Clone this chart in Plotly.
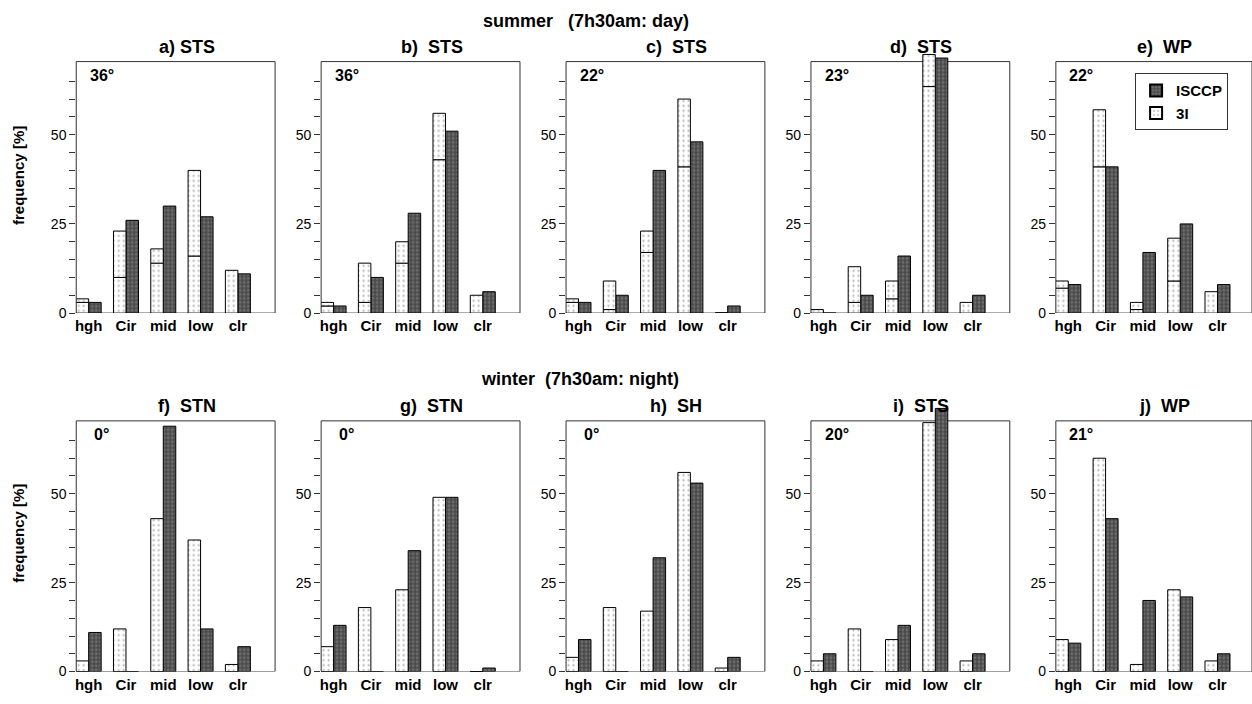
import plotly.graph_objects as go

# Cloud-type categories on the x axis
categories = ["hgh", "Cir", "mid", "low", "clr"]

# Panel titles, latitude labels and season headings
panel_titles = ["a) STS", "b)  STS", "c)  STS", "d)  STS", "e)  WP",
                "f)  STN", "g)  STN", "h)  SH", "i)  STS", "j)  WP"]
latitudes = ["36°", "36°", "22°", "23°", "22°",
             "0°", "0°", "0°", "20°", "21°"]
season_titles = ["summer\u00a0\u00a0\u00a0(7h30am: day)", "winter\u00a0\u00a0(7h30am: night)"]

# 3I frequencies [%]: bar total and the lower part marked inside the bar
ti_total = [
    [4, 23, 18, 40, 12],
    [3, 14, 20, 56, 5],
    [4, 9, 23, 60, 0],
    [1, 13, 9, 72.5, 3],
    [9, 57, 3, 21, 6],
    [3, 12, 43, 37, 2],
    [7, 18, 23, 49, 0],
    [4, 18, 17, 56, 1],
    [3, 12, 9, 70, 3],
    [9, 60, 2, 23, 3],
]
ti_part = [
    [3, 10, 14, 16, 0],
    [2, 3, 14, 43, 0],
    [3, 1, 17, 41, 0],
    [0, 3, 4, 63.5, 0],
    [7, 41, 1, 9, 0],
    [0, 0, 0, 0, 0],
    [0, 0, 0, 0, 0],
    [0, 0, 0, 0, 0],
    [0, 0, 0, 0, 0],
    [0, 0, 0, 0, 0],
]
# ISCCP frequencies [%]
isccp = [
    [3, 26, 30, 27, 11],
    [2, 10, 28, 51, 6],
    [3, 5, 40, 48, 2],
    [0, 5, 16, 71.5, 5],
    [8, 41, 17, 25, 8],
    [11, 0, 69, 12, 7],
    [13, 0, 34, 49, 1],
    [9, 0, 32, 53, 4],
    [5, 0, 13, 74, 5],
    [8, 43, 20, 21, 5],
]

W, H = 1252, 704
FONT = "Liberation Sans"
BAR_W = 0.335
PX_PER_UNIT = 37.33
Y_FRAME = 70.5     # top edge of each panel frame
Y_TOP = 77.0       # axis extends a little above the frame so tall bars can overrun it

ti_pattern = dict(shape=".", fgcolor="#707070", bgcolor="white", size=5, solidity=0.16)
isccp_pattern = dict(shape="+", fgcolor="#101010", bgcolor="#6e6e6e", size=4, solidity=0.5)

fig = go.Figure()
layout = {}
annotations = []
shapes = []

row_px = [(62.3, 316.7), (425.7, 679.3)]
title_y = [48, 411]

for i in range(10):
    r, c = divmod(i, 5)
    n = i + 1
    xa = "x" if n == 1 else f"x{n}"
    ya = "y" if n == 1 else f"y{n}"
    left = 75.3 + 245.1 * c
    right = min(left + 199.0, W)
    top, bottom = row_px[r]
    ppu = (bottom - top) / Y_FRAME
    axis_top = bottom - Y_TOP * ppu

    xs = list(range(len(categories)))
    upper = [t - p for t, p in zip(ti_total[i], ti_part[i])]

    common = dict(xaxis=xa, yaxis=ya, hoverinfo="skip")
    fig.add_trace(go.Bar(
        x=xs, y=isccp[i], offset=0, width=BAR_W, name="ISCCP",
        marker=dict(color="#6e6e6e", pattern=isccp_pattern,
                    line=dict(color="black", width=1)),
        showlegend=(i == 0), legendrank=1, **common))
    fig.add_trace(go.Bar(
        x=xs, y=ti_part[i], base=[0] * len(xs), offset=-BAR_W, width=BAR_W, name="3I",
        marker=dict(color="white", pattern=ti_pattern,
                    line=dict(color="black", width=1)),
        showlegend=False, **common))
    fig.add_trace(go.Bar(
        x=xs, y=upper, base=ti_part[i], offset=-BAR_W, width=BAR_W, name="3I",
        marker=dict(color="white", pattern=ti_pattern,
                    line=dict(color="black", width=1)),
        showlegend=(i == 0), legendrank=2, **common))

    layout["xaxis" if n == 1 else f"xaxis{n}"] = dict(
        domain=[left / W, right / W], anchor=ya,
        range=[-1 / 3, -1 / 3 + (right - left) / PX_PER_UNIT],
        tickvals=xs, ticktext=categories, ticks="",
        tickfont=dict(family=FONT, size=15, color="black", weight="bold"),
        ticklabelstandoff=2,
        showline=False, showgrid=False, zeroline=False, fixedrange=True)
    layout["yaxis" if n == 1 else f"yaxis{n}"] = dict(
        domain=[1 - bottom / H, 1 - axis_top / H], anchor=xa,
        range=[0, Y_TOP],
        tickvals=list(range(0, 70, 5)),
        ticktext=[str(v) if v in (0, 25, 50) else "" for v in range(0, 70, 5)],
        ticks="outside", ticklen=6, tickcolor="#333",
        tickfont=dict(family=FONT, size=14, color="black"),
        showline=False, showgrid=False, zeroline=False, fixedrange=True)

    # panel frame
    shapes.append(dict(
        type="rect", xref=f"{xa} domain", yref=ya, x0=0, x1=1, y0=0, y1=Y_FRAME,
        line=dict(color="#333", width=1), fillcolor="rgba(0,0,0,0)", layer="below"))

    annotations.append(dict(
        text=panel_titles[i], xref="paper", yref="paper",
        x=((left + right) / 2 + 11) / W, y=1 - title_y[r] / H,
        xanchor="center", yanchor="middle", showarrow=False,
        font=dict(family=FONT, size=18, color="black", weight="bold")))
    annotations.append(dict(
        text=latitudes[i], xref="paper", yref="paper",
        x=(left + 25.6) / W, y=1 - (top + 14) / H,
        xanchor="center", yanchor="middle", showarrow=False,
        font=dict(family=FONT, size=16, color="black", weight="bold")))

for r, (txt, cx, cy) in enumerate(zip(season_titles, [585, 579], [21, 383])):
    annotations.append(dict(
        text=txt, xref="paper", yref="paper", x=cx / W, y=1 - cy / H,
        xanchor="center", yanchor="middle", showarrow=False,
        font=dict(family=FONT, size=18, color="black", weight="bold")))

for cy in [177, 539]:
    annotations.append(dict(
        text="frequency [%]", xref="paper", yref="paper", x=18 / W, y=1 - cy / H,
        xanchor="center", yanchor="middle", textangle=-90, showarrow=False,
        font=dict(family=FONT, size=15, color="black", weight="bold")))

fig.update_layout(
    width=W, height=H, margin=dict(l=0, r=0, t=0, b=0),
    paper_bgcolor="white", plot_bgcolor="white",
    barmode="overlay", showlegend=True,
    legend=dict(x=1135 / W, y=1 - 74 / H, xanchor="left", yanchor="top",
                bordercolor="#333", borderwidth=1, bgcolor="white",
                font=dict(family=FONT, size=15, color="black", weight="bold"),
                tracegroupgap=0, itemsizing="constant"),
    annotations=annotations, shapes=shapes,
    **layout)

fig.write_html("out.html")
